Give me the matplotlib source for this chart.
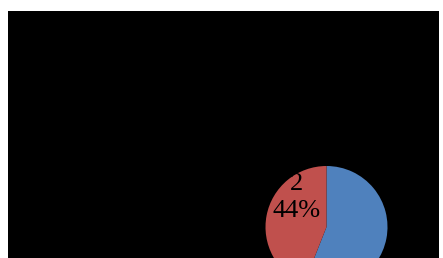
import matplotlib
matplotlib.use("Agg")
import matplotlib.pyplot as plt

# data
categories = ["1", "2"]
values = [56, 44]
colours = ["#4F81BD", "#C0504D"]
shown_labels = ["", "2\n44%"]

W, H = 443, 258
fig = plt.figure(figsize=(W / 100, H / 100), dpi=100, facecolor="white")

# black chart area
bg = fig.add_axes([8 / W, 0, 431 / W, 247 / H])
bg.set_facecolor("black")
bg.set_xticks([])
bg.set_yticks([])
for s in bg.spines.values():
    s.set_visible(False)

# pie, centre at (326.5, 227) px from top-left, radius 61 px
cx, cy, r = 326.5, H - 227, 61
ax = fig.add_axes([(cx - r) / W, (cy - r) / H, 2 * r / W, 2 * r / H])
ax.set_facecolor("none")
ax.pie(values, colors=colours, startangle=90, counterclock=False,
       radius=1, wedgeprops=dict(linewidth=0))
ax.set_xlim(-1, 1)
ax.set_ylim(-1, 1)
ax.set_aspect("auto")
ax.axis("off")

# label of the red slice
ax.text(-0.49, 0.49, shown_labels[1], ha="center", va="center",
        family="Liberation Serif", fontsize=19, color="black", linespacing=1.3)

fig.savefig("out.png", dpi=100, facecolor="white")
